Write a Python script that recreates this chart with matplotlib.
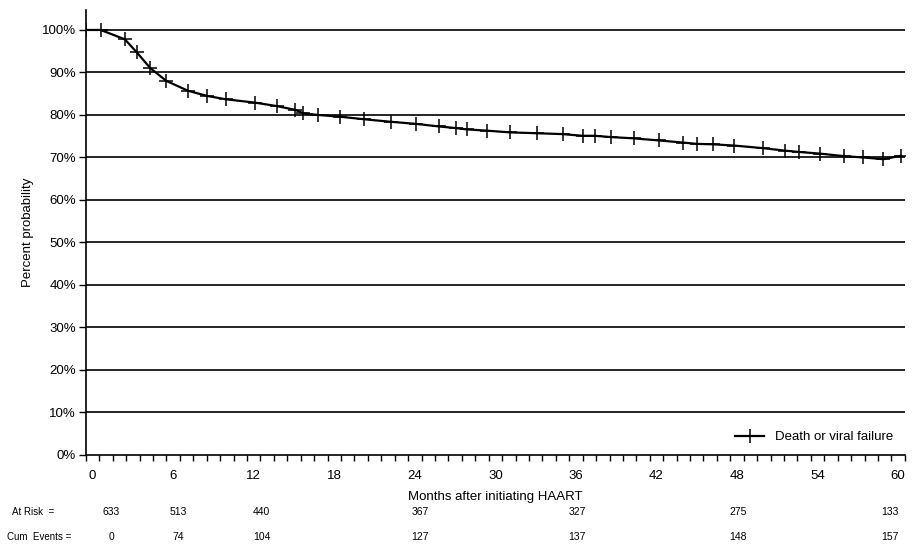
import numpy as np
from matplotlib import pyplot as plt

plt.rcParams['font.family'] = ['Liberation Sans', 'DejaVu Sans']

# Kaplan-Meier style estimate (months, percent)
months = [0.0, 1.1, 2.9, 3.8, 4.8, 6.0, 7.6, 9.0, 10.4, 12.6, 14.2, 15.6, 16.2,
          17.3, 18.9, 20.7, 22.7, 24.6, 26.3, 27.6, 28.4, 29.9, 31.6, 33.6,
          35.5, 37.0, 37.9, 39.1, 40.8, 42.7, 44.5, 45.5, 46.7, 48.3, 50.4,
          52.1, 53.1, 54.7, 56.5, 57.9, 59.4, 60.7]
percent = [100.0, 100.0, 97.8, 94.7, 91.0, 88.0, 85.7, 84.5, 83.7, 82.9, 82.1,
           81.2, 80.4, 80.0, 79.6, 79.0, 78.4, 77.9, 77.3, 76.9, 76.6, 76.3,
           75.9, 75.7, 75.5, 75.1, 75.1, 74.8, 74.5, 74.0, 73.5, 73.2, 73.1,
           72.8, 72.2, 71.6, 71.3, 70.9, 70.3, 70.0, 69.6, 70.4]

tick_months = [0, 6, 12, 18, 24, 30, 36, 42, 48, 54, 60]
risk_months = [0, 6, 12, 24, 36, 48, 60]
at_risk = [633, 513, 440, 367, 327, 275, 133]
cum_events = [0, 74, 104, 127, 137, 148, 157]
risk_label_x = [1.9, 6.9, 13.1, 24.9, 36.6, 48.6, 59.9]

fig = plt.figure(figsize=(9.14, 5.58), dpi=100)
ax = fig.add_axes([0.094, 0.1846, 0.896, 0.7975])

ax.plot(months, percent, color='black', lw=1.6, marker='+', ms=10, mew=1.1,
        label='Death or viral failure')

ax.set_xlim(0, 61)
ax.set_ylim(0, 104.7)

# horizontal gridlines every 10%
for g in range(10, 101, 10):
    ax.axhline(g, color='black', lw=1.2, zorder=0)

ax.set_yticks(range(0, 101, 10))
ax.set_yticklabels(['%d%%' % v for v in range(0, 101, 10)], fontsize=9.5)
ax.tick_params(axis='y', direction='out', length=5, width=1, pad=2)

ax.set_xticks([m + 0.5 for m in tick_months])
ax.set_xticklabels([str(m) for m in tick_months], fontsize=9.5)
ax.set_xticks(np.arange(0, 62), minor=True)
ax.tick_params(axis='x', which='major', length=0, pad=11)
ax.tick_params(axis='x', which='minor', direction='out', length=4, width=1)

for side in ['top', 'right']:
    ax.spines[side].set_visible(False)
for side in ['left', 'bottom']:
    ax.spines[side].set_linewidth(1.2)

ax.set_xlabel('Months after initiating HAART', fontsize=9.5, labelpad=6)
ax.set_ylabel('Percent probability', fontsize=9.5, labelpad=6)

ax.legend(loc='lower right', frameon=False, fontsize=9.5, handlelength=2.2,
          bbox_to_anchor=(1.0, 0.0))

# numbers at risk table under the axis
row_y = [512, 537]
fig.text(0.013, 1 - row_y[0] / 558, 'At Risk  =', fontsize=7, va='center')
fig.text(0.008, 1 - row_y[1] / 558, 'Cum  Events =', fontsize=7, va='center')
for x, r, c in zip(risk_label_x, at_risk, cum_events):
    fx = fig.transFigure.inverted().transform(ax.transData.transform((x, 0)))[0]
    fig.text(fx, 1 - row_y[0] / 558, str(r), ha='center', va='center', fontsize=7.5)
    fig.text(fx, 1 - row_y[1] / 558, str(c), ha='center', va='center', fontsize=7.5)

fig.savefig('out.png', dpi=100)
